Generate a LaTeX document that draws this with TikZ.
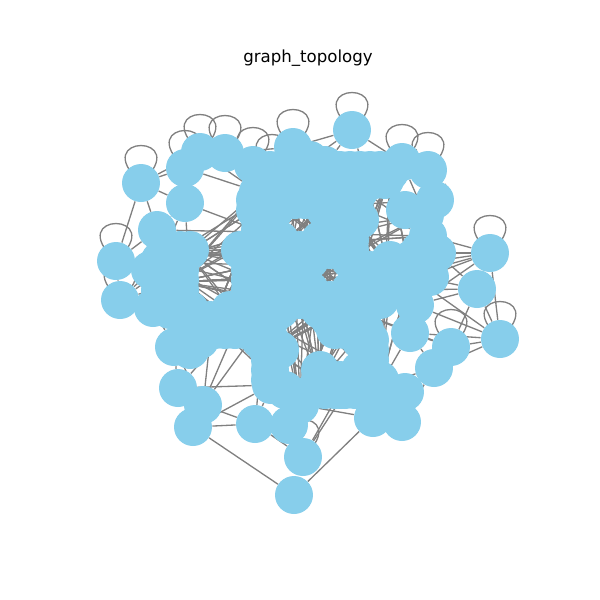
\documentclass[tikz,border=0pt]{standalone}
\usepackage{fontspec}
\setmainfont{DejaVu Sans}
\pgfdeclarelayer{bg}
\pgfsetlayers{bg,main}
\definecolor{nodeblue}{HTML}{87CEEB}
\definecolor{edgegray}{HTML}{808080}
\begin{document}
\begin{tikzpicture}[x=0.02cm,y=-0.02cm,
  nd/.style={circle,fill=nodeblue,draw=none,inner sep=0pt,minimum size=0.76cm},
  ed/.style={draw=edgegray,line width=0.75pt},
  selfloop/.style={draw=edgegray,line width=0.75pt}]
\useasboundingbox (0,0) rectangle (600,600);
\node[font=\fontsize{9.45}{11}\selectfont] (title) at (308,58) {graph\_topology};
% main nodes
\foreach \n/\x/\y in {
 1/352/130, 2/141/183, 3/293/147, 4/200/152, 5/225/153, 6/253/165,
 7/402/162, 8/428/170, 9/435/200, 10/490/253, 11/477/289, 12/500/339,
 13/451/347, 14/434/368, 15/437/253, 16/116/261, 17/120/300, 18/157/230,
 19/153/308, 20/174/347, 21/178/388, 22/203/405, 23/193/427, 24/255/424,
 25/271/385, 26/289/425, 27/303/457, 28/294/495, 29/373/418, 30/402/422,
 31/405/392, 32/341/390, 33/368/358, 34/410/333, 35/415/305, 36/185/168,
 37/185/203, 38/430/277,
 39/258/192, 40/292/180, 41/325/165, 42/365/172, 43/390/172, 44/345/205,
 45/272/212, 46/325/240, 47/262/232, 48/348/230, 49/330/200, 50/428/236,
 51/258/265, 52/282/255, 53/305/255, 54/362/272, 55/388/268, 56/410/275,
 57/188/252, 58/178/282, 59/255/298, 60/282/290, 61/310/300, 62/355/295,
 63/390/290, 64/212/322, 65/265/320, 66/268/350, 67/320/385, 68/330/310,
 69/358/312, 70/380/385, 71/300/405, 72/160/262, 73/310/160, 74/425/215,
 75/240/318, 76/272/172}
 \node[nd] (n\n) at (\x,\y) {};
% filler nodes of the dense core, leaving the small gaps open
\foreach \yy/\xa/\xb in {170/270/390, 180/265/400, 190/260/410, 200/255/410,
  210/255/410, 220/250/410, 230/250/410, 240/250/415, 250/180/420,
  260/160/420, 270/150/420, 280/150/410, 290/150/400, 300/160/395,
  310/170/395, 320/190/395, 330/195/400, 340/200/390, 350/190/375,
  360/250/370, 370/260/375, 380/270/380, 390/285/385}{
  \pgfmathtruncatemacro\xn{\xa+10}
  \foreach \xx in {\xa,\xn,...,\xb}{
    \xdef\okflag{1}
    \foreach \gx/\gy/\gr in {218/186/7, 230/225/7, 214/280/15, 228/372/20,
      300/222/3, 300/330/9, 341/355/3, 330/273/4, 370/245/1, 380/203/1,
      387/322/4, 400/360/7, 296/372/2, 401/233/3, 413/185/0, 135/285/2,
      401/278/0}{
      \pgfmathtruncatemacro\tst{((\xx-\gx)/10)^2+((\yy-\gy)/10)^2<((\gr+19)/10)^2}
      \ifnum\tst=1 \xdef\okflag{0}\fi
    }
    \ifnum\okflag=1
      \pgfmathtruncatemacro\xi{\xx}
      \node[nd] (f\xi-\yy) at (\xx,\yy) {};
    \fi
  }
}
\begin{pgfonlayer}{bg}
% self loops
\foreach \n in {1,2,3,4,5,6,7,8,10,12,13,16,17,27,36,76}
 \draw[selfloop] (n\n.center) .. controls +(-55,-50) and +(55,-50) .. (n\n.center);
% edges of the outer nodes
\foreach \a/\b in {
 1/3,1/41,1/42,1/7,1/73, 2/36,2/18,2/4,2/37,2/16, 3/73,3/40,3/6,3/5,3/76,
 4/36,4/5,4/39, 5/6,5/39, 6/39,6/40,6/76, 7/8,7/42,7/43,7/74, 8/9,8/74,8/43,
 9/74,9/15,9/50,9/44, 10/15,10/11,10/56,10/50,10/12,10/35,10/55,10/63,
 11/15,11/13,11/56,11/35,11/12,11/63, 12/13,12/34,12/14,12/35,12/56,
 13/14,13/34,13/69, 14/31,14/70,14/34, 15/50,15/56,15/55,15/38,38/56,38/63,
 16/18,16/17,16/72,16/58,16/57, 17/19,17/72,17/58,17/57, 18/37,18/72,18/47,18/57,
 19/20,19/58,19/64, 20/21,20/64,20/22,20/75, 21/22,21/23,21/25,21/75,
 22/23,22/24,22/65,22/64, 23/28,23/25,23/24,23/75, 24/25,24/26,24/27,24/65,
 25/26,25/71,25/65, 26/27,26/71, 27/32,27/33,27/71, 28/29,
 29/30,29/31,29/32,29/71,29/67, 30/31,30/14, 31/33,31/70, 32/33,32/66,32/67,
 33/69,33/67, 34/35,34/69,34/70, 35/56,35/63,
 36/37,36/39,37/57,37/47,37/72, 57/51,57/59,58/59,58/51,72/51,64/51,64/59}
 \draw[ed] (n\a) -- (n\b);
% edges of the dense core
\pgfmathsetseed{4242}
\foreach \k in {1,...,320}{
 \pgfmathtruncatemacro\a{random(39,76)}
 \pgfmathtruncatemacro\b{random(39,76)}
 \draw[ed] (n\a) -- (n\b);
}
\end{pgfonlayer}
\end{tikzpicture}
\end{document}
